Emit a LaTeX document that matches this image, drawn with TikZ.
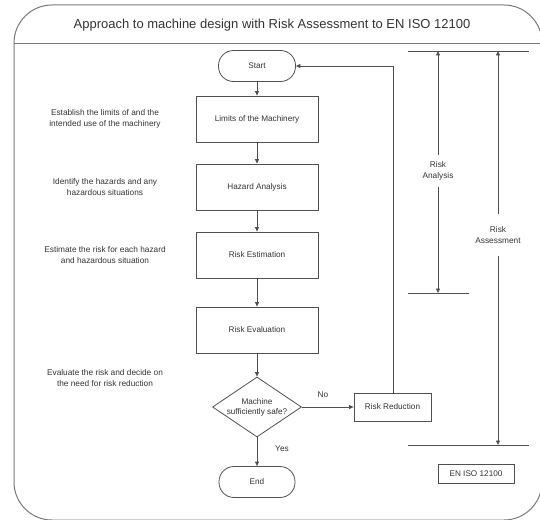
\documentclass[tikz,border=0pt]{standalone}
\usepackage{fontspec}
\setmainfont{Liberation Sans}
\usetikzlibrary{shapes.geometric,arrows.meta}
\definecolor{ln}{HTML}{505050}
\definecolor{fr}{HTML}{7A7A7A}
\definecolor{tx}{HTML}{333333}
\tikzset{
  base/.style={draw=ln, line width=0.8pt, text=tx, font=\fontsize{8.2}{10}\selectfont, align=center},
  procbox/.style={base, rectangle, minimum width=122pt, minimum height=46pt},
  termbox/.style={base, rectangle, rounded corners=15pt, minimum width=77pt, minimum height=31pt},
  decbox/.style={base, diamond, aspect=1.48, inner sep=0pt, minimum width=89pt, minimum height=60pt},
  smallbox/.style={base, rectangle, minimum width=77pt, minimum height=28pt},
  sidetext/.style={text=tx, font=\fontsize{8.3}{11}\selectfont, align=center},
  conn/.style={draw=ln, line width=0.8pt, -{Triangle[length=4.5pt,width=4pt]}},
  bar/.style={draw=ln, line width=0.8pt},
}
\begin{document}
\begin{tikzpicture}[x=1pt,y=-1pt]
\useasboundingbox (0,0) rectangle (540,519);
\begin{scope}
\clip (0,0) rectangle (540,519);
\draw[fr, line width=1pt, rounded corners=38pt] (14,5) rectangle (542,520);
\end{scope}
\coordinate (tl) at (14,44);
\coordinate (tr) at (540,44);
\draw[fr, line width=1pt] (tl) -- (tr);
\node[text=tx, font=\fontsize{13}{15}\selectfont] (title) at (272,25) {Approach to machine design with Risk Assessment to EN ISO 12100};

% flowchart
\node[termbox] (start) at (257,66) {Start};
\node[procbox] (lim) at (257,119) {Limits of the Machinery};
\node[procbox] (haz) at (257,187) {Hazard Analysis};
\node[procbox] (est) at (257,255) {Risk Estimation};
\node[procbox] (eva) at (257,330) {Risk Evaluation};
\node[decbox] (dec) at (257,407) {Machine\\sufficiently safe?};
\node[smallbox] (red) at (392.5,407) {Risk Reduction};
\node[termbox, minimum width=76pt] (end) at (257,482) {End};

\draw[conn] (start) -- (lim);
\draw[conn] (lim) -- (haz);
\draw[conn] (haz) -- (est);
\draw[conn] (est) -- (eva);
\draw[conn] (eva) -- (dec);
\draw[conn] (dec) -- (end);
\draw[conn] (dec) -- (red);
\coordinate (fb) at (393,66);
\draw[conn] (red.north -| fb) -- (fb) -- (start.east);
\node[sidetext] (yes) at (282,449) {Yes};
\node[sidetext] (no) at (323,395) {No};

% side descriptions
\node[sidetext] (d1) at (105,119) {Establish the limits of and the\\intended use of the machinery};
\node[sidetext] (d2) at (105,187) {Identify the hazards and any\\hazardous situations};
\node[sidetext] (d3) at (105,255) {Estimate the risk for each hazard\\and hazardous situation};
\node[sidetext] (d4) at (105,378) {Evaluate the risk and decide on\\the need for risk reduction};

% right-hand dimension lines
\coordinate (topL) at (408,51);
\coordinate (topR) at (529,51);
\coordinate (anL) at (408,293);
\coordinate (anR) at (469,293);
\coordinate (asL) at (408,445);
\coordinate (asR) at (529,445);
\draw[bar] (topL) -- (topR);
\draw[bar] (anL) -- (anR);
\draw[bar] (asL) -- (asR);
\node[sidetext, inner xsep=2pt, inner ysep=6pt] (ra) at (438,171) {Risk\\Analysis};
\node[sidetext, inner xsep=2pt, inner ysep=12pt] (rs) at (498,235) {Risk\\Assessment};
\coordinate (a1) at (438,51);
\coordinate (a2) at (438,293);
\coordinate (b1) at (498,51);
\coordinate (b2) at (498,445);
\draw[conn] (ra) -- (a1);
\draw[conn] (ra) -- (a2);
\draw[conn] (rs) -- (b1);
\draw[conn] (rs) -- (b2);

\node[base, rectangle, minimum width=76pt, minimum height=19pt] (iso) at (476,473.5) {EN ISO 12100};
\end{tikzpicture}
\end{document}
